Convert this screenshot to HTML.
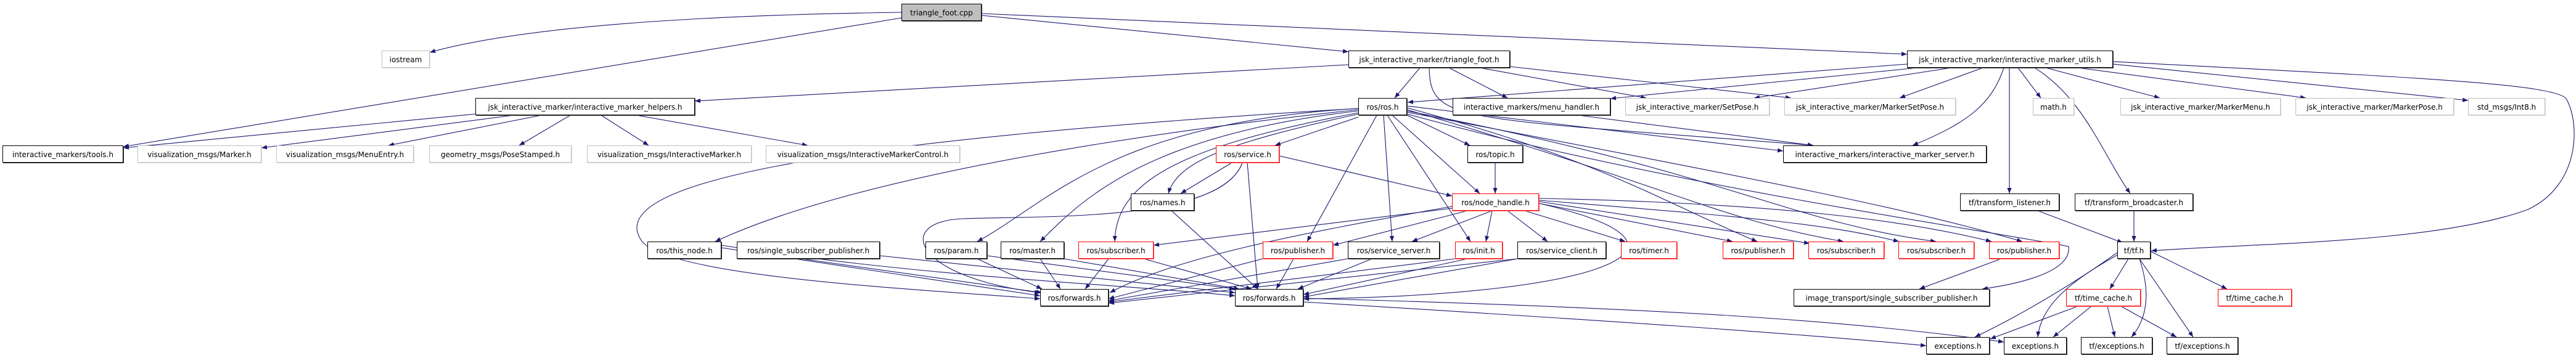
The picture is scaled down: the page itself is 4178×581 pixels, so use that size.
<!DOCTYPE html>
<html><head><meta charset="utf-8"><style>
html,body{margin:0;padding:0;background:#fff;}
body{width:4178px;height:581px;position:relative;overflow:hidden;font-family:"DejaVu Sans","Liberation Sans",sans-serif;font-size:12px;}
.n{position:absolute;height:28px;line-height:28px;text-align:center;white-space:nowrap;box-sizing:border-box;background:#fff;color:#000;border:1px solid #000;box-shadow:1px 1px 0 #444;}
.g{border-color:#bfbfbf;box-shadow:1px 1px 0 #ddd;}
.r{border-color:#f00;box-shadow:1px 1px 0 #f66;}
svg{position:absolute;left:0;top:0;}
</style></head><body>
<svg width="4178" height="581" viewBox="0 0 4178 581">
<defs><marker id="a" viewBox="0 0 10 10" refX="10" refY="5" markerWidth="9" markerHeight="9" orient="auto" markerUnits="userSpaceOnUse"><path d="M0,1 L10,5 L0,9 z" fill="#191970"/></marker></defs>
<g fill="none" stroke="#191970" stroke-width="1.1" marker-end="url(#a)">
<path d="M1462,20 Q900,28 697,85"/>
<path d="M1462,29 Q900,120 200,238"/>
<path d="M1592,25 L2187,84"/>
<path d="M1592,22 L3093,88"/>
<path d="M2187,105 L1127,164"/>
<path d="M2303,110 L2262,159"/>
<path d="M2350,110 L2445,159"/>
<path d="M2400,110 L2670,159"/>
<path d="M2449,108 L2905,159"/>
<path d="M2318,110 C2320,200 2360,190 2941,236"/>
<path d="M3093,104 L2283,166"/>
<path d="M3110,110 L2612,160"/>
<path d="M3165,110 L2845,159"/>
<path d="M3216,110 L3081,159"/>
<path d="M3250,110 C3230,170 3190,200 3102,236"/>
<path d="M3259,110 L3259,314"/>
<path d="M3273,110 L3310,159"/>
<path d="M3300,110 C3380,160 3410,250 3455,314"/>
<path d="M3318,110 L3503,159"/>
<path d="M3370,110 L3740,159"/>
<path d="M3427,104 L4003,163"/>
<path d="M3427,100 C3900,125 4140,135 4162,160 C4185,200 4185,300 4100,340 C3950,395 3650,395 3489,407"/>
<path d="M771,185 L200,240"/>
<path d="M833,187 L424,240"/>
<path d="M878,187 L630,236"/>
<path d="M925,187 L842,236"/>
<path d="M975,187 L1052,236"/>
<path d="M1032,187 L1310,236"/>
<path d="M2203,178 C1900,210 1400,280 1160,392"/>
<path d="M2203,176 C1800,200 1700,330 1585,392"/>
<path d="M2203,180 C1850,220 1750,330 1687,392"/>
<path d="M2203,183 C1900,240 1810,300 1808,392"/>
<path d="M2203,185 C2000,230 1910,260 1895,314"/>
<path d="M2203,190 L2068,236"/>
<path d="M2233,187 L2120,392"/>
<path d="M2244,187 L2258,392"/>
<path d="M2250,187 L2385,392"/>
<path d="M2258,187 L2400,314"/>
<path d="M2282,187 L2384,236"/>
<path d="M2203,176 C1300,230 980,300 1040,390 C1080,450 1500,470 1687,485"/>
<path d="M2282,175 C2600,260 2700,330 2850,392"/>
<path d="M2282,178 C2700,300 2800,360 2990,392"/>
<path d="M2282,180 C2800,280 2900,360 3140,392"/>
<path d="M2282,182 C2900,300 3100,340 3280,392"/>
<path d="M2282,172 L2892,245"/>
<path d="M2560,187 L2941,236"/>
<path d="M2282,185 C2700,300 3200,370 3355,400 C3360,440 3280,460 3215,469"/>
<path d="M2355,338 L1871,398"/>
<path d="M2380,342 L2162,398"/>
<path d="M2420,342 L2290,392"/>
<path d="M2420,342 L2410,392"/>
<path d="M2445,342 L2510,392"/>
<path d="M2473,342 L2636,392"/>
<path d="M2496,330 L2810,392"/>
<path d="M2496,327 L2935,395"/>
<path d="M2496,325 C2800,350 2950,360 3080,392"/>
<path d="M2496,322 C2900,330 3100,360 3230,392"/>
<path d="M2355,335 C2100,380 1900,420 1800,475"/>
<path d="M2496,330 C2800,400 2600,480 2114,485"/>
<path d="M1998,264 L1915,314"/>
<path d="M2075,253 L2355,318"/>
<path d="M2023,264 L2040,469"/>
<path d="M2015,264 C1980,360 1700,350 1560,355 C1450,360 1480,450 1687,475"/>
<path d="M2425,264 L2425,314"/>
<path d="M1900,342 L2040,469"/>
<path d="M1170,402 L1687,480"/>
<path d="M1170,398 C1500,450 1800,460 2003,480"/>
<path d="M1300,420 L1690,475"/>
<path d="M1427,415 L2003,475"/>
<path d="M1585,420 L1690,469"/>
<path d="M1601,415 L2003,469"/>
<path d="M1687,420 L1720,469"/>
<path d="M1726,420 L2010,469"/>
<path d="M1798,420 L1760,469"/>
<path d="M1855,420 L2030,469"/>
<path d="M2048,420 L1798,485"/>
<path d="M2098,420 L2070,469"/>
<path d="M2186,420 L1798,488"/>
<path d="M2225,420 L2105,469"/>
<path d="M2360,420 L1798,490"/>
<path d="M2380,420 L2114,478"/>
<path d="M2461,420 L1798,492"/>
<path d="M2461,420 L2114,482"/>
<path d="M3243,421 L3113,469"/>
<path d="M3305,342 L3443,394"/>
<path d="M3461,342 L3461,392"/>
<path d="M3452,420 L3422,469"/>
<path d="M3488,408 L3612,469"/>
<path d="M3434,410 C3350,470 3260,520 3203,547"/>
<path d="M3434,414 C3350,460 3310,500 3305,547"/>
<path d="M3470,420 C3490,480 3480,520 3457,547"/>
<path d="M3470,420 L3557,547"/>
<path d="M3370,497 L3228,550"/>
<path d="M3392,497 L3330,547"/>
<path d="M3418,497 L3430,547"/>
<path d="M3440,497 L3530,547"/>
<path d="M2114,490 C2600,520 2900,540 3124,561"/>
<path d="M2114,484 C2700,500 3000,520 3250,555"/>
</g></svg>

<div class="n" style="left:1462px;top:6px;width:130px;background:#bfbfbf;">triangle_foot.cpp</div>

<div class="n g" style="left:619px;top:82px;width:78px;">iostream</div>
<div class="n" style="left:2187px;top:82px;width:262px;">jsk_interactive_marker/triangle_foot.h</div>
<div class="n" style="left:3093px;top:82px;width:334px;">jsk_interactive_marker/interactive_marker_utils.h</div>

<div class="n" style="left:771px;top:159px;width:356px;">jsk_interactive_marker/interactive_marker_helpers.h</div>
<div class="n" style="left:2203px;top:159px;width:79px;">ros/ros.h</div>
<div class="n" style="left:2356px;top:159px;width:256px;">interactive_markers/menu_handler.h</div>
<div class="n g" style="left:2636px;top:159px;width:234px;">jsk_interactive_marker/SetPose.h</div>
<div class="n g" style="left:2894px;top:159px;width:278px;">jsk_interactive_marker/MarkerSetPose.h</div>
<div class="n g" style="left:3297px;top:159px;width:67px;">math.h</div>
<div class="n g" style="left:3439px;top:159px;width:260px;">jsk_interactive_marker/MarkerMenu.h</div>
<div class="n g" style="left:3723px;top:159px;width:257px;">jsk_interactive_marker/MarkerPose.h</div>
<div class="n g" style="left:4003px;top:159px;width:125px;">std_msgs/Int8.h</div>

<div class="n" style="left:4px;top:236px;width:196px;">interactive_markers/tools.h</div>
<div class="n g" style="left:223px;top:236px;width:201px;">visualization_msgs/Marker.h</div>
<div class="n g" style="left:448px;top:236px;width:223px;">visualization_msgs/MenuEntry.h</div>
<div class="n g" style="left:696px;top:236px;width:231px;">geometry_msgs/PoseStamped.h</div>
<div class="n g" style="left:952px;top:236px;width:267px;">visualization_msgs/InteractiveMarker.h</div>
<div class="n g" style="left:1242px;top:236px;width:315px;">visualization_msgs/InteractiveMarkerControl.h</div>
<div class="n r" style="left:1972px;top:236px;width:103px;">ros/service.h</div>
<div class="n" style="left:2380px;top:236px;width:90px;">ros/topic.h</div>
<div class="n" style="left:2892px;top:236px;width:330px;">interactive_markers/interactive_marker_server.h</div>

<div class="n" style="left:1834px;top:314px;width:103px;">ros/names.h</div>
<div class="n r" style="left:2355px;top:314px;width:141px;">ros/node_handle.h</div>
<div class="n" style="left:3179px;top:314px;width:161px;">tf/transform_listener.h</div>
<div class="n" style="left:3365px;top:314px;width:192px;">tf/transform_broadcaster.h</div>

<div class="n" style="left:1050px;top:392px;width:120px;">ros/this_node.h</div>
<div class="n" style="left:1195px;top:392px;width:232px;">ros/single_subscriber_publisher.h</div>
<div class="n" style="left:1501px;top:392px;width:100px;">ros/param.h</div>
<div class="n" style="left:1623px;top:392px;width:103px;">ros/master.h</div>
<div class="n r" style="left:1749px;top:392px;width:122px;">ros/subscriber.h</div>
<div class="n r" style="left:2048px;top:392px;width:114px;">ros/publisher.h</div>
<div class="n" style="left:2186px;top:392px;width:149px;">ros/service_server.h</div>
<div class="n r" style="left:2360px;top:392px;width:77px;">ros/init.h</div>
<div class="n" style="left:2461px;top:392px;width:144px;">ros/service_client.h</div>
<div class="n r" style="left:2629px;top:392px;width:91px;">ros/timer.h</div>
<div class="n r" style="left:2794px;top:392px;width:115px;">ros/publisher.h</div>
<div class="n r" style="left:2933px;top:392px;width:123px;">ros/subscriber.h</div>
<div class="n r" style="left:3079px;top:392px;width:123px;">ros/subscriber.h</div>
<div class="n r" style="left:3226px;top:392px;width:114px;">ros/publisher.h</div>
<div class="n" style="left:3434px;top:392px;width:54px;">tf/tf.h</div>

<div class="n" style="left:1687px;top:469px;width:111px;">ros/forwards.h</div>
<div class="n" style="left:2003px;top:469px;width:111px;">ros/forwards.h</div>
<div class="n" style="left:2909px;top:469px;width:318px;">image_transport/single_subscriber_publisher.h</div>
<div class="n r" style="left:3351px;top:469px;width:121px;">tf/time_cache.h</div>
<div class="n r" style="left:3597px;top:469px;width:120px;">tf/time_cache.h</div>

<div class="n" style="left:3124px;top:547px;width:103px;">exceptions.h</div>
<div class="n" style="left:3250px;top:547px;width:102px;">exceptions.h</div>
<div class="n" style="left:3375px;top:547px;width:116px;">tf/exceptions.h</div>
<div class="n" style="left:3514px;top:547px;width:116px;">tf/exceptions.h</div>
</body></html>
